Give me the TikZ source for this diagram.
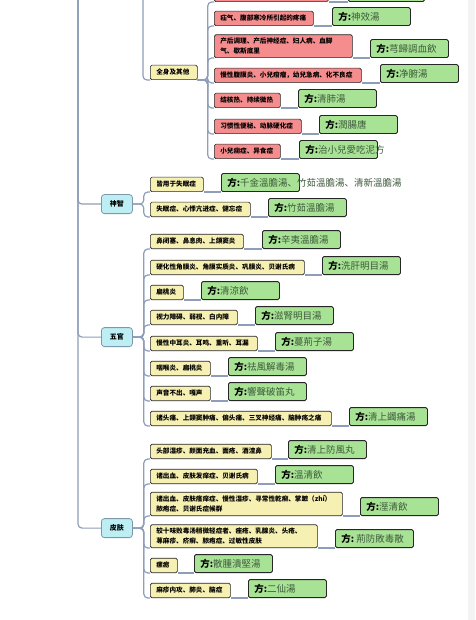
\documentclass[tikz,border=0pt]{standalone}
\usepackage{fontspec}
\setmainfont{Noto Sans CJK SC}
\usepackage{tikz}
\usetikzlibrary{backgrounds}

\definecolor{linkc}{HTML}{8E9DB8}
\definecolor{redf}{HTML}{F58C8D}
\definecolor{yelf}{HTML}{F6F0B3}
\definecolor{grnf}{HTML}{A8E295}
\definecolor{cyanf}{HTML}{BDEEF3}
\definecolor{cyanb}{HTML}{7D98AA}
\definecolor{fangc}{HTML}{3E5A3C}
\definecolor{stripc}{HTML}{F3F3F3}

\newcommand{\fang}[1]{\makebox[66pt][l]{\textbf{方:}\textcolor{fangc}{#1}}}

\begin{document}
\begin{tikzpicture}[
				x=1pt, y=-1pt,
				sym/.style={draw=black!85, line width=0.7pt, rounded corners=1.5pt, anchor=south west,
					inner xsep=6pt, inner ysep=3pt, minimum height=14.5pt, align=left,
					font=\fontsize{6.6}{10.5}\selectfont\bfseries},
				redbox/.style={sym, fill=redf},
				yelbox/.style={sym, fill=yelf},
				fangbox/.style={draw=black!85, line width=0.8pt, rounded corners=1.5pt, fill=grnf,
					anchor=south west, inner xsep=6pt, inner ysep=0pt, minimum height=18pt,
					font=\fontsize{9.5}{11}\selectfont},
				cat/.style={draw=cyanb, line width=0.8pt, rounded corners=3pt, fill=cyanf, anchor=south west,
					minimum width=31pt, minimum height=19pt, inner sep=0pt, font=\fontsize{7}{8}\selectfont\bfseries},
				link/.style={draw=linkc, line width=1.2pt, rounded corners=4pt},
				]
				
				\useasboundingbox (0,0) rectangle (475,620);
				\clip (0,0) rectangle (475,620);
				\fill[stripc] (468,0) rectangle (475,620);
				
				\coordinate (root) at (78,-10);
				\coordinate (up) at (143,-10);
				
				%% ── 全身及其他 ─────────────────────────────────────────────
				\node[yelbox, text width=35pt] (qs) at (150,80) {全身及其他};
				\node[redbox, text width=102pt] (r1) at (214,2) {};
				\node[fangbox, minimum width=76pt] (f1) at (348,2) {};
				\node[redbox, text width=87pt] (r2) at (214,26) {疝气、腹部寒冷所引起的疼痛};
				\node[fangbox] (f2) at (332,26) {\fang{神效湯}};
				\node[redbox, text width=126pt] (r3) at (214,58) {产后调理、产后神经症、妇人病、血脚\\气、歇斯底里};
				\node[fangbox] (f3) at (370,58) {\fang{芎歸調血飲}};
				\node[redbox, text width=135pt] (r4) at (214,83) {慢性腹膜炎、小兒疳瘤，幼兒急病、化不良症};
				\node[fangbox] (f4) at (380,83) {\fang{净腑湯}};
				\node[redbox, text width=54pt] (r5) at (214,108) {结核热、持续微热};
				\node[fangbox] (f5) at (298,108) {\fang{清肺湯}};
				\node[redbox, text width=75pt] (r6) at (214,134) {习惯性便秘、动脉硬化症};
				\node[fangbox] (f6) at (319,134) {\fang{潤腸唐}};
				\node[redbox, text width=54pt] (r7) at (214,159) {小兒痫症、异食症};
				\node[fangbox] (f7) at (299,159) {\fang{治小兒愛吃泥方}};
				
				%% ── 神智 ───────────────────────────────────────────────────
				\node[cat] (sz) at (101,214) {神智};
				\node[yelbox, text width=41pt] (s1) at (150,192) {皆用于失眠症};
				\node[fangbox] (sf1) at (221,192) {\fang{千金溫膽湯、竹茹溫膽湯、清新溫膽湯}};
				\node[yelbox, text width=88pt] (s2) at (150,217) {失眠症、心悸亢进症、健忘症};
				\node[fangbox] (sf2) at (268,217) {\fang{竹茹溫膽湯}};
				
				%% ── 五官 ───────────────────────────────────────────────────
				\node[cat] (wg) at (101,347) {五官};
				\node[yelbox, text width=81pt] (w1) at (150,249) {鼻闭塞、鼻息肉、上颌窦炎};
				\node[fangbox] (wf1) at (262,249) {\fang{辛夷溫膽湯}};
				\node[yelbox, text width=142pt] (w2) at (150,275) {硬化性角膜炎、角膜实质炎、巩膜炎、贝谢氏病};
				\node[fangbox] (wf2) at (322,275) {\fang{洗肝明目湯}};
				\node[yelbox, text width=21pt] (w3) at (150,300) {扁桃炎};
				\node[fangbox] (wf3) at (201,300) {\fang{清涼飲}};
				\node[yelbox, text width=75pt] (w4) at (150,325) {视力障碍、弱视、白内障};
				\node[fangbox] (wf4) at (255,325) {\fang{滋腎明目湯}};
				\node[yelbox, text width=95pt] (w5) at (150,351) {慢性中耳炎、耳鸣、重听、耳漏};
				\node[fangbox] (wf5) at (275,351) {\fang{蔓荊子湯}};
				\node[yelbox, text width=48pt] (w6) at (150,376) {咽喉炎、扁桃炎};
				\node[fangbox] (wf6) at (228,376) {\fang{祛風解毒湯}};
				\node[yelbox, text width=48pt] (w7) at (150,401) {声音不出、嘎声};
				\node[fangbox] (wf7) at (228,401) {\fang{響聲破笛丸}};
				\node[yelbox, text width=169pt] (w8) at (150,426) {诸头痛、上颌窦肿痛、偏头痛、三叉神经痛、脑肿疡之痛};
				\node[fangbox] (wf8) at (349,426) {\fang{清上蠲痛湯}};
				
				%% ── 皮肤 ───────────────────────────────────────────────────
				\node[cat] (pf) at (101,538) {皮肤};
				\node[yelbox, text width=109pt] (p1) at (150,459) {头部湿疹、颜面充血、面疮、酒渣鼻};
				\node[fangbox] (pf1) at (288,459) {\fang{清上防風丸}};
				\node[yelbox, text width=95pt] (p2) at (150,484) {诸出血、皮肤发痒症、贝谢氏病};
				\node[fangbox] (pf2) at (275,484) {\fang{溫清飲}};
				\node[yelbox, text width=180pt] (p3) at (150,516) {诸出血、皮肤瘙痒症、慢性湿疹、寻常性乾癣、掌蹠（zhí）\\脓疱症、贝谢氏症候群};
				\node[fangbox] (pf3) at (360,516) {\fang{溼清飲}};
				\node[yelbox, text width=155pt] (p4) at (150,548) {较十味败毒汤稍微轻症者、痤疮、乳腺炎、头疮、\\荨麻疹、疥癣、脓疱症、过敏性皮肤};
				\node[fangbox] (pf4) at (335,548) {\fang{\ 荊防敗毒散}};
				\node[yelbox, text width=15pt] (p5) at (150,573) {瘰疬};
				\node[fangbox] (pf5) at (194,573) {\fang{散腫潰堅湯}};
				\node[yelbox, text width=68pt] (p6) at (150,598) {麻疹内攻、肺炎、脑症};
				\node[fangbox] (pf6) at (248,598) {\fang{二仙湯}};
				
				%% ── connectors ─────────────────────────────────────────────
				\begin{scope}[on background layer]
					\foreach \c in {sz,wg,pf}
						\draw[link] (root) |- (\c.west);
					\draw[link] (up) |- (qs.south west);
					\foreach \c in {r1,r2,r3,r4,r5,r6,r7}
						\draw[link] (qs.south east) -- ++(10,0) |- (\c.south west);
					\foreach \c in {s1,s2}
						\draw[link] (sz.east) -- ++(11,0) |- (\c.south west);
					\foreach \c in {w1,w2,w3,w4,w5,w6,w7,w8}
						\draw[link] (wg.east) -- ++(11,0) |- (\c.south west);
					\foreach \c in {p1,p2,p3,p4,p5,p6}
						\draw[link] (pf.east) -- ++(11,0) |- (\c.south west);
					\foreach \a/\b in {r1/f1,r2/f2,r3/f3,r4/f4,r5/f5,r6/f6,r7/f7,s1/sf1,s2/sf2,
						w1/wf1,w2/wf2,w3/wf3,w4/wf4,w5/wf5,w6/wf6,w7/wf7,w8/wf8,
						p1/pf1,p2/pf2,p3/pf3,p4/pf4,p5/pf5,p6/pf6}
						\draw[link] (\a.south east) -- (\b.south west);
				\end{scope}
				
			\end{tikzpicture}
\end{document}
